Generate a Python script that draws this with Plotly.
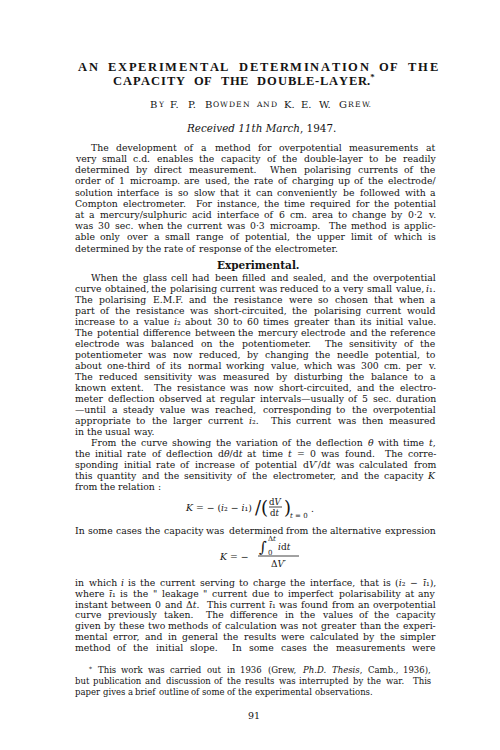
import re
import plotly.graph_objects as go

SERIF = "DejaVu Serif, serif"
TIMES = "Liberation Serif, Times New Roman, serif"
INK = "#141414"

title_lines = ["AN EXPERIMENTAL DETERMINATION OF THE",
               "CAPACITY OF THE DOUBLE-LAYER.*"]
byline = "By F. P. Bowden and K. E. W. Grew."
received = "<i>Received 11th March</i>, 1947."

intro_lines = [
    "The development of a method for overpotential measurements at",
    "very small c.d. enables the capacity of the double-layer to be readily",
    "determined by direct measurement.  When polarising currents of the",
    "order of 1 microamp. are used, the rate of charging up of the electrode/",
    "solution interface is so slow that it can conveniently be followed with a",
    "Compton electrometer.  For instance, the time required for the potential",
    "at a mercury/sulphuric acid interface of 6 cm. area to change by 0·2 v.",
    "was 30 sec. when the current was 0·3 microamp.  The method is applic-",
    "able only over a small range of potential, the upper limit of which is",
    "determined by the rate of response of the electrometer.",
]
heading = "Experimental."
method_lines = [
    "When the glass cell had been filled and sealed, and the overpotential",
    "curve obtained, the polarising current was reduced to a very small value, <i>i</i>₁.",
    "The polarising E.M.F. and the resistance were so chosen that when a",
    "part of the resistance was short-circuited, the polarising current would",
    "increase to a value <i>i</i>₂ about 30 to 60 times greater than its initial value.",
    "The potential difference between the mercury electrode and the reference",
    "electrode was balanced on the potentiometer.  The sensitivity of the",
    "potentiometer was now reduced, by changing the needle potential, to",
    "about one-third of its normal working value, which was 300 cm. per v.",
    "The reduced sensitivity was measured by disturbing the balance to a",
    "known extent.  The resistance was now short-circuited, and the electro-",
    "meter deflection observed at regular intervals—usually of 5 sec. duration",
    "—until a steady value was reached, corresponding to the overpotential",
    "appropriate to the larger current <i>i</i>₂.  This current was then measured",
    "in the usual way.",
]
curve_lines = [
    "From the curve showing the variation of the deflection <i>θ</i> with time <i>t</i>,",
    "the initial rate of deflection d<i>θ</i>/d<i>t</i> at time <i>t</i> = 0 was found.  The corre-",
    "sponding initial rate of increase of potential d<i>V</i>′/d<i>t</i> was calculated from",
    "this quantity and the sensitivity of the electrometer, and the capacity <i>K</i>",
    "from the relation :",
]
alt_line = "In some cases the capacity was determined from the alternative expression"
leak_lines = [
    "in which <i>i</i> is the current serving to charge the interface, that is (<i>i</i>₂ − <i>ī</i>₁),",
    "where <i>ī</i>₁ is the \" leakage \" current due to imperfect polarisability at any",
    "instant between 0 and Δ<i>t</i>.  This current <i>ī</i>₁ was found from an overpotential",
    "curve previously taken.  The difference in the values of the capacity",
    "given by these two methods of calculation was not greater than the experi-",
    "mental error, and in general the results were calculated by the simpler",
    "method of the initial slope.  In some cases the measurements were",
]
footnote_lines = [
    "<sup>*</sup> This work was carried out in 1936 (Grew, <i>Ph.D.</i> <i>Thesis</i>, Camb., 1936),",
    "but publication and discussion of the results was interrupted by the war.  This",
    "paper gives a brief outline of some of the experimental observations.",
]
page_number = "91"

# DejaVu / Vera Serif advance widths (per 1000 em)
DJ = dict(zip("abcdefghijklmnopqrstuvwxyz",
              [596, 640, 560, 640, 592, 370, 640, 644, 320, 310, 606, 320, 948,
               644, 602, 640, 640, 478, 513, 402, 644, 565, 856, 564, 565, 527]))
DJ.update(zip("ABCDEFGHIJKLMNOPQRSTUVWXYZ",
              [722, 735, 765, 802, 730, 694, 799, 872, 395, 401, 747, 664, 1024,
               875, 820, 673, 820, 753, 685, 667, 843, 722, 1028, 712, 660, 695]))
DJ.update({d: 636 for d in "0123456789"})
DJ.update({" ": 318, ".": 318, ",": 318, ":": 337, ";": 337, "-": 338, "—": 1000,
           "/": 337, "(": 390, ")": 390, '"': 460, "*": 500, "=": 838, "−": 838,
           "θ": 602, "Δ": 722, "′": 275, "ī": 320, "·": 318, "₁": 400, "₂": 400})
# Times bold capitals for the title
TB = dict(zip("ABCDEFGHIJKLMNOPQRSTUVWXYZ",
              [722, 667, 722, 722, 667, 611, 778, 778, 389, 500, 778, 667, 944,
               722, 778, 611, 778, 722, 556, 667, 722, 722, 1000, 722, 722, 667]))
TB.update({" ": 250, "-": 333, ".": 250, "*": 500})

annotations = []
shapes = []


def width(s, size, table=DJ):
    total = 0.0
    for part in re.split(r"(<sub>.*?</sub>|<sup>.*?</sup>)", s):
        k = 0.7 if part.startswith(("<sub>", "<sup>")) else 1.0
        for ch in re.sub(r"<[^>]+>", "", part):
            total += table.get(ch, 600) * k
    return total * size / 1000.0


def put(text, x, y, size, anchor="left", valign="top", bold=False, family=SERIF):
    # y is the middle of the lowercase letters
    if valign == "top":
        yy = y - 0.67 * size
    elif valign == "bottom":
        yy = y + 0.5 * size
    else:
        yy = y
    if bold:
        text = "<b>" + text + "</b>"
    annotations.append(dict(x=x, y=yy, xref="x", yref="y", text=text, showarrow=False,
                            xanchor=anchor, yanchor=valign, borderpad=0, borderwidth=0,
                            font=dict(family=family, size=size, color=INK)))


def set_line(line, y, left, right, size, justify):
    tokens = re.split(r"( +)", line)
    words = tokens[0::2]
    gaps = [len(g) for g in tokens[1::2]]
    ww = [width(w, size) for w in words]
    sp = DJ[" "] * size / 1000
    unit = sp
    if justify and gaps:
        unit = max((right - left - sum(ww)) / sum(gaps), sp * 0.4)
    x = left
    for i, w in enumerate(words):
        if i == 0:
            put(w, x, y, size, anchor="left")
        elif justify and i == len(words) - 1:
            put(w, right, y, size, anchor="right")
        else:
            put(w, x + ww[i] / 2, y, size, anchor="center")
        if i < len(gaps):
            x += ww[i] + unit * gaps[i]


def set_par(lines, y0, step, left, right, size, indent=16, ragged_last=True):
    for k, line in enumerate(lines):
        lx = left + (indent if k == 0 else 0)
        justify = not (ragged_last and k == len(lines) - 1)
        set_line(line, y0 + k * step, lx, right, size, justify)


def make_units(text, size_of):
    units = []
    for c in text:
        if c in ".*" and units:
            units[-1][0] += c
        else:
            units.append([c, size_of(c)])
    return units


def unit_width(u, table, space):
    s, size = u
    if s == " ":
        return space * size
    return sum(table.get(c, 600) * (0.7 if c == "*" else 1) for c in s) * size / 1000


def tracking(units, table, space, span):
    base = sum(unit_width(u, table, space) for u in units)
    return (span - base) / (len(units) - 1)


def set_tracked(units, y, track, table, family, bold, space, left=None, center=None):
    adv = [unit_width(u, table, space) for u in units]
    total = sum(adv) + track * (len(units) - 1)
    x = left if left is not None else center - total / 2
    for (s, size), w in zip(units, adv):
        if s != " ":
            put(s.replace("*", "<sup>*</sup>"), x, y, size, valign="bottom",
                bold=bold, family=family)
        x += w + track


LEFT, RIGHT = 67, 428
BODY = 9.3
STEP = 11.0

# title in spaced bold capitals
tsize = 12.5
row1 = make_units(title_lines[0], lambda c: tsize)
row2 = make_units(title_lines[1], lambda c: tsize)
set_tracked(row1, 60, tracking(row1, TB, 0.55, 360), TB, TIMES, True, 0.55, left=70)
set_tracked(row2, 74, tracking(row2, TB, 0.55, 262), TB, TIMES, True, 0.55, center=236)

# byline in small capitals
by_units = make_units(byline, lambda c: 10 if (c.isupper() or not c.isalpha()) else 7.6)
by_units = [[s.upper(), size] for s, size in by_units]
set_tracked(by_units, 97, tracking(by_units, DJ, 0.5, 222), DJ, SERIF, False, 0.5,
            center=253)

put(received, 253, 121, 10.4, anchor="center")

set_par(intro_lines, 140, 11.2, LEFT, RIGHT, BODY)
put(heading, 250, 258, 10.5, anchor="center", bold=True)
set_par(method_lines, 270, STEP, LEFT, RIGHT, BODY)
set_par(curve_lines, 270 + 15 * STEP, STEP, LEFT, RIGHT, BODY)

# K = -(i2 - i1) / (dV/dt)_{t=0}
ey = 500
put("<i>K</i> = − (<i>i</i>₂ − <i>i</i>₁)", 244, ey, BODY, anchor="right")
put("/(", 253, ey - 1, 18, anchor="center", valign="middle")
put("d<i>V</i>", 267, ey - 6, 8.6, anchor="center", valign="middle")
shapes.append(dict(type="line", xref="x", yref="y", x0=261, x1=274, y0=ey - 1, y1=ey - 1,
                   line=dict(color=INK, width=0.8)))
put("d<i>t</i>", 267, ey + 5, 8.6, anchor="center", valign="middle")
put(")", 279, ey - 1, 18, anchor="center", valign="middle")
put("<i>t</i> = 0", 282, ey + 8, 7, anchor="left", valign="middle")
put(".", 303, ey + 1, BODY, anchor="left")

set_line(alt_line, 523, LEFT, RIGHT, BODY, True)

# K = - (integral of i dt) / delta V'
iy = 549
put("<i>K</i> = −", 240, iy, BODY, anchor="right")
put("∫", 255, iy - 10, 15, anchor="center", valign="middle")
put("Δ<i>t</i>", 260, iy - 18, 7, anchor="left", valign="middle")
put("0", 260, iy - 4, 7, anchor="left", valign="middle")
put("<i>i</i>d<i>t</i>", 270, iy - 10, 9, anchor="left", valign="middle")
shapes.append(dict(type="line", xref="x", yref="y", x0=250, x1=291, y0=iy - 1, y1=iy - 1,
                   line=dict(color=INK, width=0.8)))
put("Δ<i>V</i>′", 270, iy + 7, 9, anchor="center", valign="middle")

set_par(leak_lines, 575, 10.9, LEFT, RIGHT, BODY, indent=0, ragged_last=False)

# footnote
set_par(footnote_lines, 663, 10.8, 67, 423, 8.5, indent=14)

put(page_number, 246, 708, 9.5, anchor="center")

fig = go.Figure()
fig.update_layout(
    width=500, height=750,
    margin=dict(l=0, r=0, t=0, b=0),
    paper_bgcolor="white", plot_bgcolor="white",
    xaxis=dict(range=[0, 500], visible=False, fixedrange=True),
    yaxis=dict(range=[750, 0], visible=False, fixedrange=True),
    showlegend=False,
    annotations=annotations,
    shapes=shapes,
)
fig.write_html("out.html")
